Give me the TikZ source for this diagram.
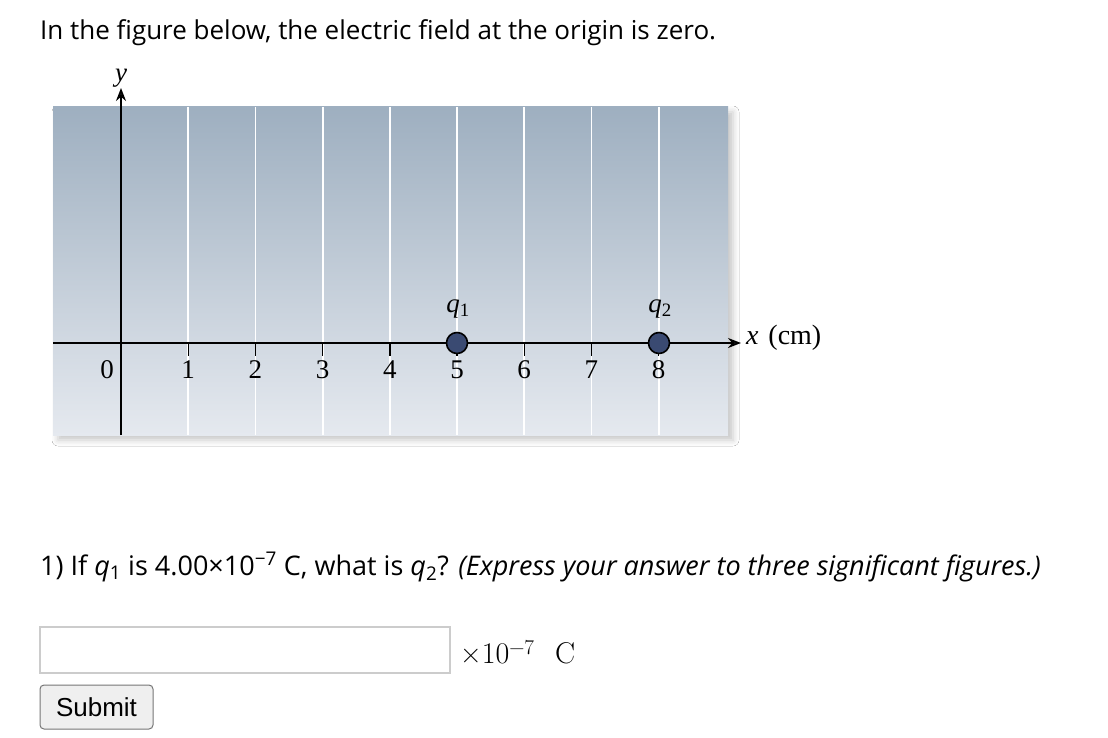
\documentclass[tikz,border=0pt]{standalone}
\usepackage{fontspec}
\setmainfont{Open Sans}[Ligatures=NoCommon]
\newfontfamily\figfont{Liberation Serif}
\newfontfamily\btnfont{Liberation Sans}
\newfontfamily\unitfont{Latin Modern Roman}
\usetikzlibrary{arrows.meta, shadows.blur}
\definecolor{paneltop}{RGB}{158,175,192}
\definecolor{panelbot}{RGB}{229,233,239}
\definecolor{chargeblue}{RGB}{58,74,114}
\definecolor{boxgray}{RGB}{204,204,204}
\definecolor{btnfill}{RGB}{239,239,239}
\definecolor{btnline}{RGB}{118,118,118}
\tikzset{
  axisline/.style={line width=1.6, -{Stealth[length=13pt,width=10pt]}},
  gridline/.style={white, line width=1.8},
  tick/.style={line width=1.4},
  charge/.style={circle, fill=chargeblue, draw=black, line width=1.6, minimum size=21pt, inner sep=0pt},
  figlabel/.style={font=\figfont\fontsize{27}{30}\selectfont, inner sep=0pt},
  pagetext/.style={font=\fontsize{26}{30}\selectfont, anchor=west, inner sep=0pt},
}
\begin{document}
\begin{tikzpicture}[x=1pt, y=-1pt]
  \useasboundingbox[fill=white] (0,0) rectangle (1108,738);
  % title
  \node[pagetext] (title) at (40,33) {In the figure below, the electric field at the origin is zero.};
  % panel
  \fill[blur shadow={shadow xshift=5pt, shadow yshift=-5pt, shadow blur radius=6pt, shadow opacity=22}, paneltop] (53,107) rectangle (728,435);
  \shade[top color=paneltop, bottom color=panelbot] (53,107) rectangle (728,435);
  \foreach \i in {1,...,8}
    \draw[gridline] ({121+67.2*\i},107) -- ({121+67.2*\i},435);
  % axes
  \coordinate (origin) at (121,343);
  \coordinate (xstart) at (53,343);
  \coordinate (xend) at (741,343);
  \coordinate (ybot) at (121,435);
  \coordinate (ytop) at (121,88);
  \draw[axisline] (xstart) -- (xend);
  \draw[axisline] (ybot) -- (ytop);
  \node[figlabel, anchor=west, font=\figfont\fontsize{28}{30}\selectfont] (xlab) at (746,338) {\textit{x}\hspace{0.35em}(cm)};
  \node[figlabel] (ylab) at (121,78) {\textit{y}};
  \node[figlabel] (n0) at (107,370) {0};
  % ticks
  \foreach \i in {1,...,8} {
    \draw[tick] ({121+67.2*\i},343) -- ++(0,13);
    \node[figlabel] (n\i) at ({121+67.2*\i},370) {\i};
  }
  % charges
  \node[charge] (q1) at (457,343) {};
  \node[charge] (q2) at (659,343) {};
  \node[figlabel] (q1lab) at (458,309) {\textit{q}\textsubscript{1}};
  \node[figlabel] (q2lab) at (660,309) {\textit{q}\textsubscript{2}};
  % question
  \node[pagetext, font=\fontsize{27}{30}\selectfont] (question) at (40,567) {1) If \textit{q}\textsubscript{1} is 4.00×10\textsuperscript{−7} C, what is \textit{q}\textsubscript{2}? \textit{(Express your answer to three significant figures.)}};
  \node[draw=boxgray, line width=1.5, minimum width=410pt, minimum height=46pt] (answer) at (245,650) {};
  \node[anchor=west, inner sep=0pt, font=\unitfont\fontsize{30}{32}\selectfont] (unit) at (460,652) {×10\raisebox{0.7ex}{\fontsize{21}{22}\selectfont −7}\hspace{0.7em}C};
  \node[draw=btnline, fill=btnfill, rounded corners=4pt, line width=1, minimum width=113pt, minimum height=44pt, font=\btnfont\fontsize{26}{30}\selectfont] (submit) at (96.5,707) {Submit};
\end{tikzpicture}
\end{document}
